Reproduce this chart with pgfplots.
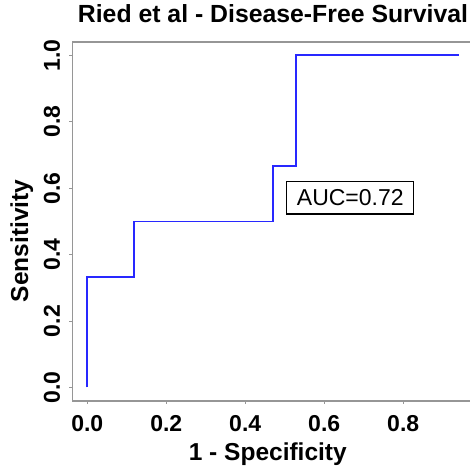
\documentclass[border=0pt]{standalone}
\usepackage{pgfplots}
\pgfplotsset{compat=1.18}
\usepackage{fontspec}
\setmainfont{Liberation Sans}
\definecolor{rocblue}{RGB}{40,40,255}
\definecolor{framegray}{RGB}{150,150,150}
\begin{document}
\begin{tikzpicture}[x=1pt,y=1pt]
\useasboundingbox (0,0) rectangle (470,469);
\begin{axis}[
  at={(72.4pt,68.3pt)}, anchor=south west,
  scale only axis, width=401.5pt, height=358.6pt,
  xmin=-0.0376, xmax=0.979, ymin=-0.04, ymax=1.04,
  xtick={0,0.2,0.4,0.6,0.8}, ytick={0,0.2,0.4,0.6,0.8,1.0},
  xtick pos=bottom, ytick pos=left,
  tick align=outside, major tick length=3pt,
  axis line style={framegray, line width=1.8pt},
  every tick/.style={framegray, line width=1pt},
  /pgf/number format/assume math mode=true,
  /pgf/number format/.cd, fixed, fixed zerofill, precision=1, /pgfplots/.cd,
  xticklabel style={font=\fontsize{23}{27}\selectfont\bfseries, anchor=north, inner sep=0pt},
  yticklabel style={font=\fontsize{23}{27}\selectfont\bfseries, rotate=90, anchor=south, inner sep=0pt},
  xticklabel shift=12pt, yticklabel shift=9pt,
  title={Ried et al - Disease-Free Survival},
  title style={font=\fontsize{24.8}{28}\selectfont\bfseries, at={(rel axis cs:0.4996,1.038)}, anchor=base, inner sep=0pt},
  xlabel={1 - Specificity},
  xlabel style={font=\fontsize{24.5}{28}\selectfont\bfseries, at={(rel axis cs:0.4867,-0.1654)}, anchor=base, inner sep=0pt},
  ylabel={Sensitivity},
  ylabel style={font=\fontsize{24.5}{28}\selectfont\bfseries, at={(rel axis cs:-0.11,0.4453)}, anchor=base, rotate=0, inner sep=0pt},
  clip=false,
]
\addplot[rocblue, line width=1.8pt, line join=miter] coordinates {
  (0,0) (0,0.3333) (0.1176,0.3333) (0.1176,0.5) (0.4706,0.5) (0.4706,0.6667)
  (0.5294,0.6667) (0.5294,1) (0.9412,1)
};
\node[draw=black, line width=1.4pt, minimum width=127pt, minimum height=32.6pt, inner sep=0pt,
      font=\fontsize{23}{27}\selectfont] at (axis cs:0.666,0.571) {AUC=0.72};
\end{axis}
\end{tikzpicture}
\end{document}
